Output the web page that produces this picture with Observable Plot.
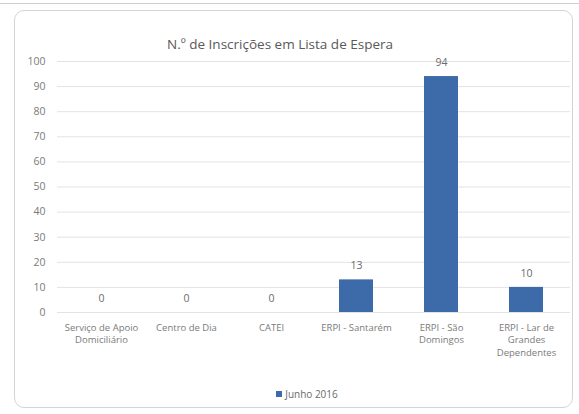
<!DOCTYPE html>
<html>
<head>
<meta charset="utf-8">
<script src="https://cdn.jsdelivr.net/npm/d3@7"></script>
<script src="https://cdn.jsdelivr.net/npm/@observablehq/plot@0.6"></script>
<style>
  html, body { margin: 0; padding: 0; background: #fff; }
  #wrap { position: relative; width: 579px; height: 414px; overflow: hidden; font-family: "Open Sans", sans-serif; }
  #topline { position: absolute; left: 0; top: 3px; width: 579px; height: 0; border-top: 1px solid #cfcfcf; }
  #box { position: absolute; left: 14px; top: 10px; width: 559px; height: 398px; border: 1px solid #d4d4d4; border-radius: 10px; box-sizing: border-box; }
  #title { position: absolute; left: 0; width: 560px; top: 35px; text-align: center; font-size: 13.5px; color: #595959; }
  #legend { position: absolute; left: 0; width: 614px; top: 387px; text-align: center; font-size: 10px; color: #6b6b6b; }
  #legend span.sw { display: inline-block; width: 6px; height: 6px; background: #3d6aa9; margin-right: 3px; vertical-align: 1px; }
  #chart { position: absolute; left: 0; top: 0; }
</style>
</head>
<body>
<div id="wrap">
  <div id="topline"></div>
  <div id="box"></div>
  <div id="chart"></div>
  <div id="title">N.º de Inscrições em Lista de Espera</div>
  <div id="legend"><span class="sw"></span>Junho 2016</div>
</div>
<script>
// Waiting-list registrations per service, June 2016
const categories = [
  "Serviço de Apoio\nDomiciliário",
  "Centro de Dia",
  "CATEI",
  "ERPI - Santarém",
  "ERPI - São\nDomingos",
  "ERPI - Lar de\nGrandes\nDependentes"
];
const values = [0, 0, 0, 13, 94, 10];
const yTicks = [0, 10, 20, 30, 40, 50, 60, 70, 80, 90, 100];

const data = categories.map((c, i) => ({ category: c, value: values[i] }));

const chart = Plot.plot({
  width: 579,
  height: 414,
  marginLeft: 57,
  marginRight: 9,
  marginTop: 61,
  marginBottom: 102,
  style: { fontFamily: "Open Sans, sans-serif", fontSize: "9px", color: "#777", background: "transparent" },
  x: { domain: categories, paddingInner: 0.6, paddingOuter: 0.3, label: null },
  y: { domain: [0, 100], label: null },
  marks: [
    Plot.ruleY(yTicks, { stroke: "#e3e3e3", strokeWidth: 1 }),
    Plot.barY(data, { x: "category", y: "value", fill: "#3d6aa9" }),
    Plot.text(data, { x: "category", y: "value", text: d => String(d.value), dy: -14, fill: "#6b6b6b", fontSize: 10.5 }),
    Plot.axisY({ ticks: yTicks, tickSize: 0, tickPadding: 12, fill: "#7a7a7a", fontSize: 10.5 }),
    Plot.axisX({ tickSize: 0, tickPadding: 9, fill: "#7a7a7a", fontSize: 9.5, lineAnchor: "top", lineHeight: 1.35 })
  ]
});
document.getElementById("chart").appendChild(chart);
</script>
</body>
</html>
